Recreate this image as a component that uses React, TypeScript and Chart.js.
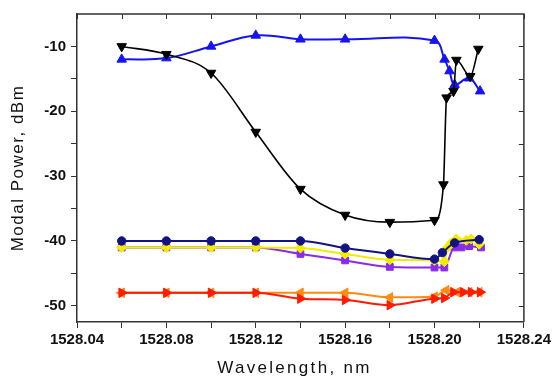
import React, { useEffect, useRef } from 'react';
import { Chart, registerables } from 'chart.js';
Chart.register(...registerables);

// ---- data (wavelength in nm, modal power in dBm) ----
const blueX = [1528.06, 1528.08, 1528.10, 1528.12, 1528.14, 1528.16, 1528.20, 1528.2045, 1528.2067, 1528.209, 1528.2155, 1528.2204];
const blueY = [-12, -11.8, -10, -8.3, -8.9, -8.9, -9.1, -12, -13.8, -15.9, -14.9, -16.9];

const blackX = [1528.06, 1528.08, 1528.10, 1528.12, 1528.14, 1528.16, 1528.18, 1528.20, 1528.204, 1528.2054, 1528.2085, 1528.2098, 1528.216, 1528.2196];
const blackY = [-10, -11.2, -14.1, -23.2, -32, -36, -37.1, -36.8, -31.3, -17.9, -16.9, -12.1, -14.6, -10.4];

const navyX = [1528.06, 1528.08, 1528.10, 1528.12, 1528.14, 1528.16, 1528.18, 1528.20, 1528.2035, 1528.209, 1528.22];
const navyY = [-40, -40, -40, -40, -40, -41.1, -42, -42.8, -41.8, -40.3, -39.8];

const yellowX = [1528.06, 1528.08, 1528.10, 1528.12, 1528.14, 1528.16, 1528.18, 1528.20, 1528.2044, 1528.2058, 1528.2075, 1528.2098, 1528.2142, 1528.2164, 1528.22];
const yellowY = [-41, -41, -41, -41, -41.1, -42, -42.9, -43, -43.2, -41, -40.3, -39.7, -39.9, -39.7, -40.5];

const purpleX = [1528.06, 1528.08, 1528.10, 1528.12, 1528.14, 1528.16, 1528.18, 1528.20, 1528.2044, 1528.2089, 1528.212, 1528.2155, 1528.2208];
const purpleY = [-41, -41, -41, -41, -42, -43, -44, -44.1, -44.1, -41, -41, -40.8, -41];

const redX = [1528.06, 1528.08, 1528.10, 1528.12, 1528.14, 1528.16, 1528.18, 1528.20, 1528.2044, 1528.2085, 1528.2129, 1528.2164, 1528.2204];
const redY = [-48, -48, -48, -48, -48.9, -49.1, -49.9, -48.9, -48.8, -47.9, -47.9, -47.9, -47.9];

const orangeX = [1528.06, 1528.08, 1528.10, 1528.12, 1528.14, 1528.16, 1528.18, 1528.20, 1528.2052, 1528.21, 1528.2155, 1528.22];
const orangeY = [-48, -48, -48, -48, -48, -48, -48.7, -48.6, -47.6, -47.9, -47.9, -47.9];

const xTickValues = [1528.04, 1528.06, 1528.08, 1528.10, 1528.12, 1528.14, 1528.16, 1528.18, 1528.20, 1528.22, 1528.24];
const xTickLabels = ['1528.04', '', '1528.08', '', '1528.12', '', '1528.16', '', '1528.20', '', '1528.24'];
const yTickValues = [-50, -45, -40, -35, -30, -25, -20, -15, -10];
const yTickLabels = ['-50', '', '-40', '', '-30', '', '-20', '', '-10'];

const xTitle = 'Wavelength, nm';
const yTitle = 'Modal Power, dBm';

const pts = (xs: number[], ys: number[]) => xs.map((x, i) => ({ x, y: ys[i] }));

const framePlugin = {
  id: 'frame',
  afterDatasetsDraw(chart: any) {
    const { ctx, chartArea, scales } = chart;
    const { left, right, top, bottom } = chartArea;
    ctx.save();
    ctx.strokeStyle = '#333';
    ctx.lineWidth = 1.5;
    ctx.beginPath();
    ctx.moveTo(left, top);
    ctx.lineTo(right, top);
    ctx.lineTo(right, bottom);
    ctx.stroke();
    ctx.lineWidth = 1;
    ctx.beginPath();
    scales.x.ticks.forEach((t: any) => {
      const px = Math.round(scales.x.getPixelForValue(t.value)) + 0.5;
      ctx.moveTo(px, top);
      ctx.lineTo(px, top + 5);
    });
    scales.y.ticks.forEach((t: any) => {
      const py = Math.round(scales.y.getPixelForValue(t.value)) + 0.5;
      ctx.moveTo(right, py);
      ctx.lineTo(right - 5, py);
    });
    ctx.stroke();
    ctx.restore();
  },
};

const titleSpacingPlugin = {
  id: 'titleSpacing',
  afterLayout(chart: any) {
    ['x', 'y'].forEach((id) => {
      const s: any = chart.scales[id];
      if (s && !s.__patched) {
        const orig = s.drawTitle.bind(s);
        s.drawTitle = function () {
          const ctx = s.ctx;
          ctx.save();
          ctx.letterSpacing = id === 'x' ? '2.3px' : '1.5px';
          if (id === 'x') ctx.translate(-6, 0);
          orig();
          ctx.restore();
        };
        s.__patched = true;
      }
    });
  },
};

export default function App() {
  const ref = useRef<HTMLCanvasElement>(null);
  useEffect(() => {
    if (!ref.current) return;
    const tickFont = { family: 'Liberation Sans, Arial, sans-serif', size: 15, weight: 'bold' as const };
    const titleFont = { family: 'Liberation Sans, Arial, sans-serif', size: 17, weight: 'normal' as const, lineHeight: 1 };
    const line = (data: any, color: string, style: string, rot: number, r: number, width: number, mono = true) => ({
      data,
      borderColor: color,
      backgroundColor: color,
      pointBackgroundColor: color,
      pointBorderColor: color,
      pointStyle: style,
      pointRotation: rot,
      pointRadius: r,
      pointBorderWidth: 1,
      borderWidth: width,
      showLine: true,
      fill: false,
      ...(mono ? { cubicInterpolationMode: 'monotone' } : { tension: 0.4 }),
    });
    const chart = new Chart(ref.current, {
      type: 'scatter',
      data: {
        datasets: [
          line(pts(blackX, blackY), '#000000', 'triangle', 180, 5.5, 1.6),
          line(pts(blueX, blueY), '#1414f0', 'triangle', 0, 5.5, 2, false),
          line(pts(navyX, navyY), '#121283', 'circle', 0, 4.2, 2),
          line(pts(yellowX, yellowY), '#f2ec00', 'rectRot', 0, 5, 2),
          line(pts(purpleX, purpleY), '#8a2be8', 'rect', 0, 4.8, 2),
          line(pts(redX, redY), '#ff1a00', 'triangle', 90, 5.5, 2),
          line(pts(orangeX, orangeY), '#ff8a10', 'triangle', -90, 5.5, 2),
        ] as any,
      },
      options: {
        animation: false,
        responsive: false,
        events: [],
        layout: { padding: { top: 10, right: 26, bottom: 0, left: 0 } },
        plugins: { legend: { display: false }, tooltip: { enabled: false } },
        scales: {
          x: {
            type: 'linear',
            min: 1528.04,
            max: 1528.24,
            afterBuildTicks: (scale: any) => {
              scale.ticks = xTickValues.map((v) => ({ value: v }));
            },
            afterFit: (scale: any) => {
              scale.height = 56;
            },
            ticks: {
              autoSkip: false,
              maxRotation: 0,
              color: '#111',
              font: tickFont,
              padding: 3,
              callback: (_v: any, i: number) => xTickLabels[i],
            },
            grid: { drawOnChartArea: false, drawTicks: true, tickLength: 6, tickColor: '#333' },
            border: { display: true, color: '#333', width: 1.5 },
            title: { display: true, text: xTitle, color: '#111', font: titleFont, padding: { top: 0, bottom: 1 } },
          },
          y: {
            type: 'linear',
            min: -52.5,
            max: -5,
            afterBuildTicks: (scale: any) => {
              scale.ticks = yTickValues.map((v) => ({ value: v }));
            },
            afterFit: (scale: any) => {
              scale.width = 77;
            },
            ticks: {
              autoSkip: false,
              color: '#111',
              font: tickFont,
              padding: 5,
              callback: (_v: any, i: number) => yTickLabels[i],
            },
            grid: { drawOnChartArea: false, drawTicks: true, tickLength: 6, tickColor: '#333' },
            border: { display: true, color: '#333', width: 1.5 },
            title: { display: true, text: yTitle, color: '#111', font: titleFont, padding: { top: 10, bottom: 0 } },
          },
        },
      } as any,
      plugins: [framePlugin, titleSpacingPlugin],
    });
    chart.draw();
    return () => chart.destroy();
  }, []);
  return (
    <div style={{ position: 'fixed', left: 0, top: 0, width: 554, height: 378, background: '#fff' }}>
      <canvas ref={ref} width={554} height={378} style={{ display: 'block' }} />
    </div>
  );
}
